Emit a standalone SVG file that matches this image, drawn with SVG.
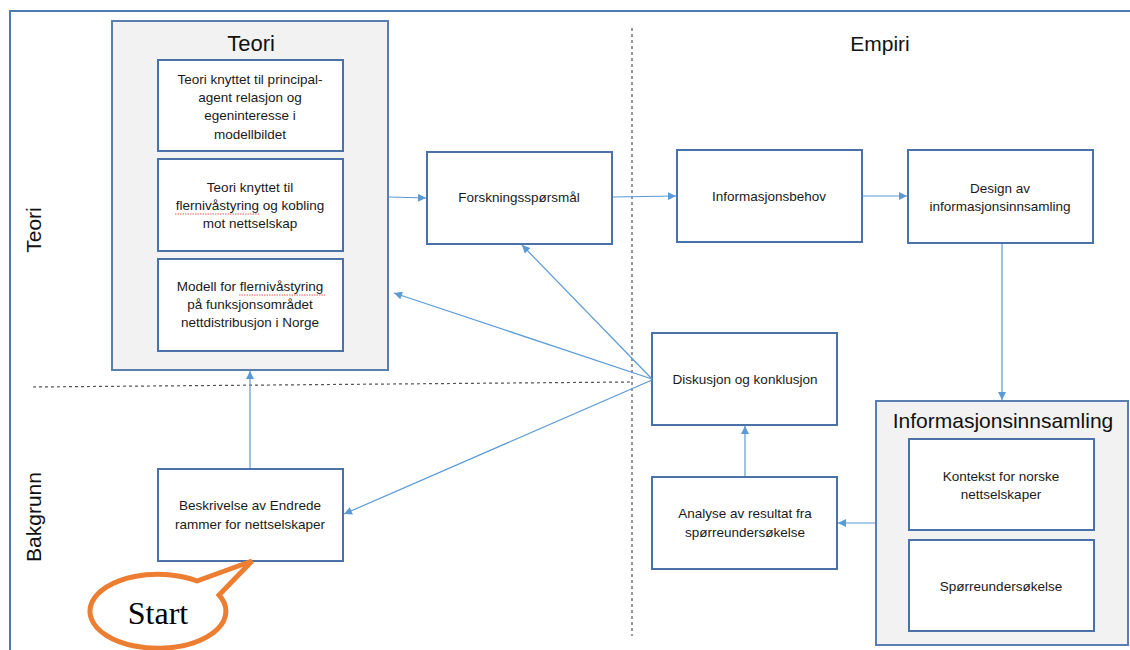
<svg xmlns="http://www.w3.org/2000/svg" width="1130" height="650" viewBox="0 0 1130 650">
<defs>
<marker id="ah" viewBox="0 0 10 10" refX="10" refY="5" markerWidth="9" markerHeight="8" markerUnits="userSpaceOnUse" orient="auto">
<path d="M0,0 L10,5 L0,10 Z" fill="#5B9BD5"/>
</marker>
<style>
.box{fill:#fff;stroke:#4A72A8;stroke-width:2}
.cont{fill:#F2F2F2;stroke:#5A7FAE;stroke-width:2}
.t{font-family:"Liberation Sans",Arial,sans-serif;font-size:13.5px;fill:#1a1a1a;text-anchor:middle}
.h{font-family:"Liberation Sans",Arial,sans-serif;fill:#111;text-anchor:middle}
.c{fill:none;stroke:#5B9BD5;stroke-width:1.2;marker-end:url(#ah)}
.d{fill:none;stroke:#555;stroke-width:1.2;stroke-dasharray:3,3}
.sq{fill:none;stroke:#E03030;stroke-width:0.8;stroke-dasharray:1.5,1}
</style>
</defs>
<rect width="1130" height="650" fill="#fff"/>
<path d="M10,660 L10,11 L1140,11" fill="none" stroke="#4F7CB0" stroke-width="2"/>
<g id="dividers">
<line class="d" x1="33" y1="387" x2="632" y2="382"/>
<line class="d" x1="632" y1="28" x2="632" y2="636"/>
</g>
<g id="side-labels">
<text class="h" font-size="21" transform="translate(41,230) rotate(-90)">Teori</text>
<text class="h" font-size="21" transform="translate(41,517) rotate(-90)">Bakgrunn</text>
<text class="h" font-size="21" x="880" y="51">Empiri</text>
</g>
<g id="teori">
<rect class="cont" x="112" y="21" width="276" height="349"/>
<text class="h" font-size="22" x="251" y="51">Teori</text>
</g>
<g id="teori-1">
<rect class="box" x="158" y="60" width="185" height="91"/>
<text class="t" x="250" y="84">Teori knyttet til principal-</text>
<text class="t" x="250" y="102">agent relasjon og</text>
<text class="t" x="250" y="120">egeninteresse  i</text>
<text class="t" x="250" y="139">modellbildet</text>
</g>
<g id="teori-2">
<rect class="box" x="158" y="159" width="185" height="92"/>
<text class="t" x="250" y="192">Teori knyttet til</text>
<text class="t" x="250" y="210">flernivåstyring  og kobling</text>
<text class="t" x="250" y="228">mot nettselskap</text>
<path class="sq" d="M175,214 L260,214"/>
</g>
<g id="teori-3">
<rect class="box" x="158" y="259" width="185" height="92"/>
<text class="t" x="250" y="291">Modell  for flernivåstyring</text>
<text class="t" x="250" y="309">på funksjonsområdet</text>
<text class="t" x="250" y="327">nettdistribusjon  i Norge</text>
<path class="sq" d="M239,295 L325,295"/>
</g>
<g id="beskrivelse">
<rect class="box" x="158" y="469" width="185" height="92"/>
<text class="t" x="250" y="510">Beskrivelse  av Endrede</text>
<text class="t" x="250" y="529">rammer  for nettselskaper</text>
</g>
<g id="forskning">
<rect class="box" x="427" y="152" width="185" height="92"/>
<text class="t" x="519" y="202">Forskningsspørsmål</text>
</g>
<g id="infobehov">
<rect class="box" x="677" y="150" width="185" height="92"/>
<text class="t" x="769" y="201">Informasjonsbehov</text>
</g>
<g id="design">
<rect class="box" x="908" y="150" width="185" height="93"/>
<text class="t" x="1000" y="193">Design av</text>
<text class="t" x="1000" y="211">informasjonsinnsamling</text>
</g>
<g id="diskusjon">
<rect class="box" x="652" y="333" width="185" height="92"/>
<text class="t" x="745" y="384">Diskusjon  og konklusjon</text>
</g>
<g id="analyse">
<rect class="box" x="652" y="477" width="185" height="92"/>
<text class="t" x="745" y="518">Analyse  av resultat fra</text>
<text class="t" x="745" y="537">spørreundersøkelse</text>
</g>
<g id="innsamling">
<rect class="cont" x="876" y="401" width="252" height="244"/>
<text class="h" font-size="21" x="1003" y="428">Informasjonsinnsamling</text>
</g>
<g id="kontekst">
<rect class="box" x="909" y="439" width="185" height="91"/>
<text class="t" x="1001" y="481">Kontekst  for norske</text>
<text class="t" x="1001" y="499">nettselskaper</text>
</g>
<g id="sporre">
<rect class="box" x="909" y="540" width="185" height="91"/>
<text class="t" x="1001" y="591">Spørreundersøkelse</text>
</g>
<g id="connectors">
<line class="c" x1="250" y1="468" x2="250" y2="371"/>
<line class="c" x1="389" y1="197" x2="426" y2="198"/>
<line class="c" x1="613" y1="197" x2="676" y2="196"/>
<line class="c" x1="863" y1="196" x2="907" y2="196"/>
<line class="c" x1="1002" y1="244" x2="1002" y2="400"/>
<line class="c" x1="875" y1="523" x2="838" y2="523"/>
<line class="c" x1="745" y1="476" x2="745" y2="426"/>
<line class="c" x1="652" y1="379" x2="522" y2="245"/>
<line class="c" x1="652" y1="379" x2="394" y2="293"/>
<line class="c" x1="652" y1="380" x2="344" y2="514"/>
</g>
<g id="start">
<path d="M197,581 L252,561 L219,595 A68,37 0 1 1 197,581 Z" fill="#fff" stroke="#ED7D31" stroke-width="5" stroke-linejoin="miter"/>
<text x="158" y="624" font-family="Liberation Serif,Times New Roman,serif" font-size="32" text-anchor="middle" fill="#000">Start</text>
</g>
</svg>
